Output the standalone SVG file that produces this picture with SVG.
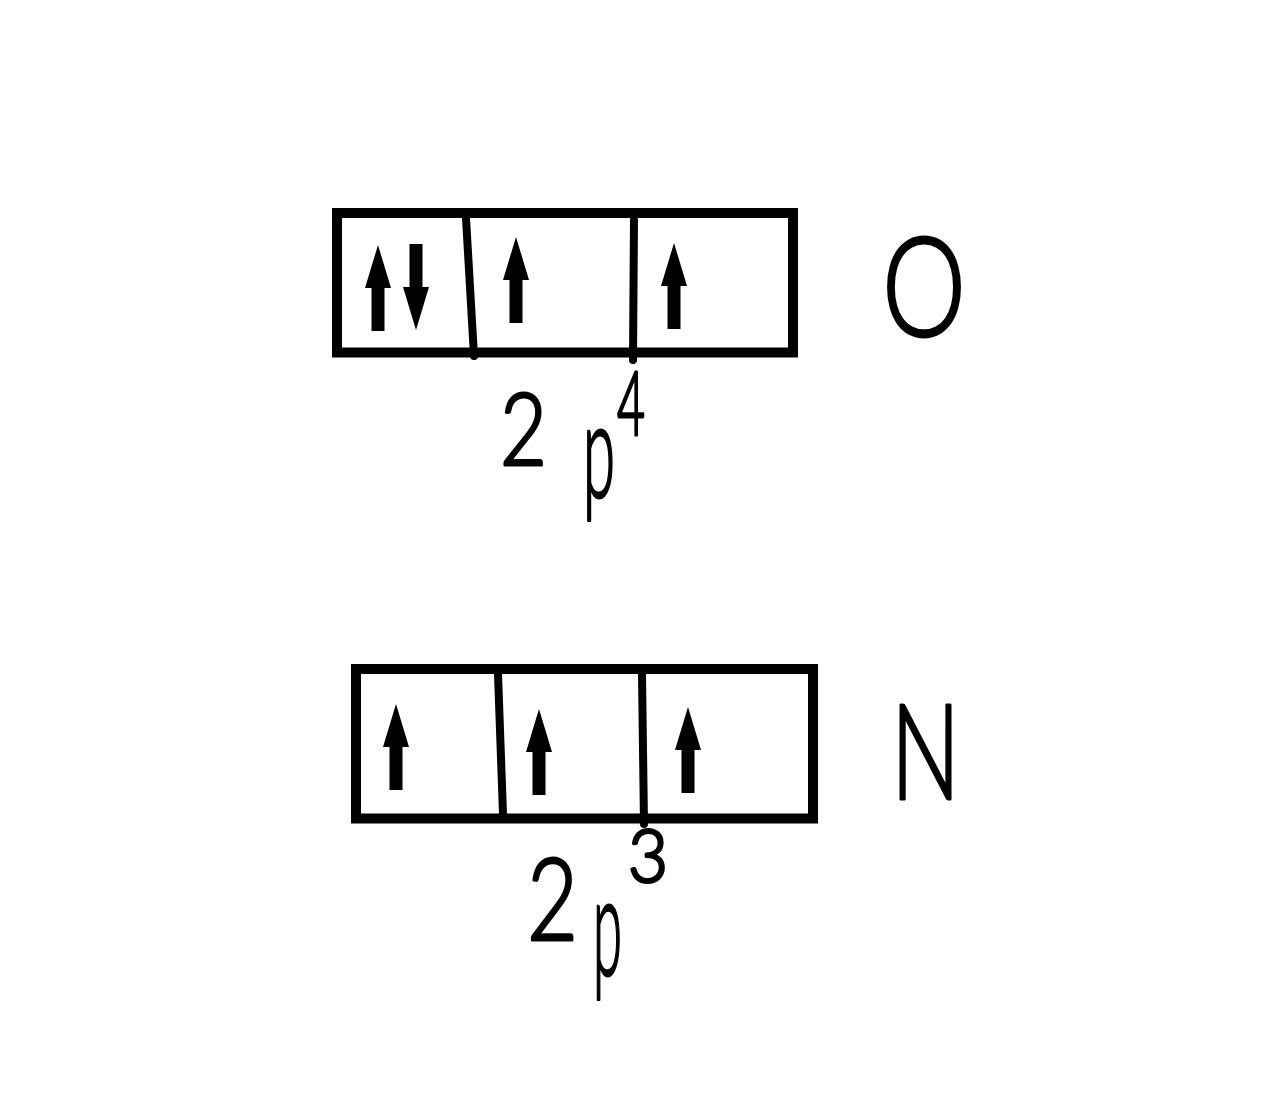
<svg xmlns="http://www.w3.org/2000/svg" xmlns:xlink="http://www.w3.org/1999/xlink" width="1280" height="1104" viewBox="0 0 1280 1104">
<style>
.box{fill:none;stroke:#000;stroke-width:10}
.div{stroke:#000;stroke-width:8;stroke-linecap:round;fill:none}
.hand{font-family:Lato,"Liberation Sans",sans-serif;font-weight:300;fill:#000;stroke:#000;stroke-width:3;stroke-linejoin:round}
</style>
<defs>
<path id="arrow" d="M0,0 L13,43 L6.5,43 L6.5,86 L-6.5,86 L-6.5,43 L-13,43 Z" fill="#000"/>
</defs>
<rect width="1280" height="1104" fill="#fff"/>
<g id="oxygen-orbitals">
<rect class="box" x="337" y="213" width="456" height="139.5"/>
<line class="div" x1="466" y1="218" x2="474" y2="356"/>
<line class="div" x1="634" y1="220" x2="633" y2="360"/>
<use xlink:href="#arrow" transform="translate(378,245)"/>
<use xlink:href="#arrow" transform="translate(416,330) rotate(180)"/>
<use xlink:href="#arrow" transform="translate(516,237)"/>
<use xlink:href="#arrow" transform="translate(674,243)"/>
</g>
<g id="oxygen-config">
<text class="hand"><tspan x="500" y="465" font-size="100" textLength="47" lengthAdjust="spacingAndGlyphs">2</tspan><tspan x="583" y="497" font-size="133" textLength="32" lengthAdjust="spacingAndGlyphs">p</tspan><tspan x="617" y="435" font-size="88" textLength="28" lengthAdjust="spacingAndGlyphs">4</tspan></text>
</g>
<g id="oxygen-symbol">
<text class="hand" x="882" y="336" font-size="139" textLength="84" lengthAdjust="spacingAndGlyphs">O</text>
</g>
<g id="nitrogen-orbitals">
<rect class="box" x="356" y="669" width="457" height="149.5"/>
<line class="div" x1="498" y1="674" x2="503" y2="814"/>
<line class="div" x1="642" y1="674" x2="644" y2="824"/>
<use xlink:href="#arrow" transform="translate(396,704)"/>
<use xlink:href="#arrow" transform="translate(539,709)"/>
<use xlink:href="#arrow" transform="translate(688,707)"/>
</g>
<g id="nitrogen-config">
<text class="hand"><tspan x="527" y="940" font-size="115" textLength="51" lengthAdjust="spacingAndGlyphs">2</tspan><tspan x="593" y="975" font-size="138" textLength="29" lengthAdjust="spacingAndGlyphs">p</tspan><tspan x="628" y="882" font-size="72" textLength="40" lengthAdjust="spacingAndGlyphs">3</tspan></text>
</g>
<g id="nitrogen-symbol">
<text class="hand" x="891" y="799" font-size="133" textLength="69" lengthAdjust="spacingAndGlyphs">N</text>
</g>
<g id="connectors"/>
</svg>
